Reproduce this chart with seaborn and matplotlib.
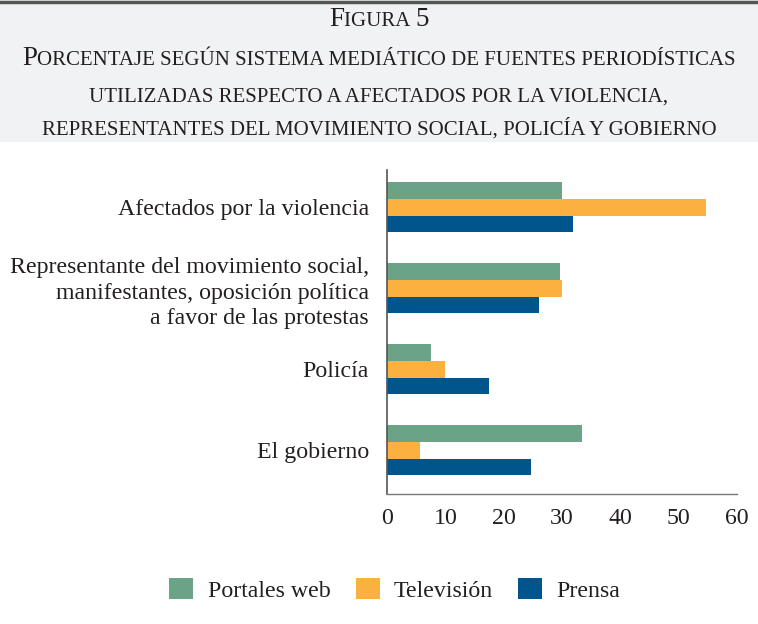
import pandas as pd
import matplotlib.pyplot as plt
import seaborn as sns
from matplotlib.patches import Patch, Rectangle
from matplotlib.lines import Line2D

categories = [
    "Afectados por la violencia",
    "Representante del movimiento social,\nmanifestantes, oposición política\na favor de las protestas",
    "Policía",
    "El gobierno",
]
series = ["Portales web", "Televisión", "Prensa"]
portales_web = [30.0, 29.7, 7.5, 33.4]
television = [54.7, 30.0, 9.9, 5.7]
prensa = [31.9, 26.1, 17.5, 24.7]
x_ticks = [0, 10, 20, 30, 40, 50, 60]

COLORS = ["#6ba386", "#fbb040", "#00558c"]
FONT = "Liberation Serif"
TEXT_COLOR = "#231f20"

sns.set_theme(style="white")
plt.rcParams["font.family"] = [FONT, "DejaVu Serif"]

df = pd.DataFrame({
    "categoria": categories * 3,
    "medio": [s for s in series for _ in categories],
    "valor": portales_web + television + prensa,
})

fig = plt.figure(figsize=(7.58, 6.24), dpi=100)
fig.patch.set_facecolor("white")

# gray title band with dark rule on top
fig.patches.append(Rectangle((0, 1 - 142 / 624), 1, 142 / 624, transform=fig.transFigure,
                             facecolor="#f1f2f3", edgecolor="none", zorder=0))
fig.lines.append(Line2D([0, 1], [1 - 1.5 / 624] * 2, transform=fig.transFigure,
                        color="#555555", linewidth=2.5))

ax = fig.add_axes([387 / 758, 130 / 624, 350 / 758, 324 / 624])
sns.barplot(data=df, y="categoria", x="valor", hue="medio", hue_order=series,
            order=categories, palette=COLORS, orient="h", width=0.62,
            saturation=1, linewidth=0, ax=ax, legend=False)

ax.set_xlim(0, 60)
ax.set_ylim(3.54, -0.46)
ax.set_xticks(x_ticks)
ax.set_xticklabels([str(t) for t in x_ticks], fontsize=17.2, color=TEXT_COLOR)
ax.set_ylabel("")
ax.set_xlabel("")
ax.tick_params(axis="y", length=0, pad=13, labelsize=17.2, labelcolor=TEXT_COLOR)
ax.tick_params(axis="x", length=0, pad=10)
for lab in ax.get_yticklabels():
    lab.set_multialignment("right")
    lab.set_linespacing(1.29)
sns.despine(ax=ax, top=True, right=True)
ax.spines["left"].set_color("#555555")
ax.spines["bottom"].set_color("#777777")
ax.spines["left"].set_linewidth(1.2)
ax.spines["bottom"].set_linewidth(1.0)

# legend
handles = [Patch(facecolor=c, edgecolor="none") for c in COLORS]
fig.legend(handles, series, loc="center", bbox_to_anchor=(395 / 758, 1 - 590 / 624),
           ncol=3, frameon=False, fontsize=17.2, handlelength=1.0, handleheight=1.0,
           handletextpad=0.6, columnspacing=1.06, labelcolor=TEXT_COLOR)

# small caps title
renderer = fig.canvas.get_renderer()


def smallcaps_line(parts, y, xc=379 / 758):
    texts = []
    for txt, size in parts:
        texts.append(fig.text(0, y, txt, fontsize=size, color=TEXT_COLOR,
                              ha="left", va="baseline"))
    widths = [t.get_window_extent(renderer).width / fig.bbox.width for t in texts]
    x = xc - sum(widths) / 2
    for t, w in zip(texts, widths):
        t.set_x(x)
        x += w


BIG, SMALL = 19.5, 15.0
smallcaps_line([("F", BIG), ("IGURA ", SMALL), ("5", BIG)], 1 - 26 / 624)
smallcaps_line([("P", BIG), ("ORCENTAJE SEGÚN SISTEMA MEDIÁTICO DE FUENTES PERIODÍSTICAS", SMALL)],
               1 - 65 / 624)
smallcaps_line([("UTILIZADAS RESPECTO A AFECTADOS POR LA VIOLENCIA,", SMALL)], 1 - 102 / 624)
smallcaps_line([("REPRESENTANTES DEL MOVIMIENTO SOCIAL, POLICÍA Y GOBIERNO", SMALL)], 1 - 135 / 624)

fig.savefig("out.png", dpi=100)
